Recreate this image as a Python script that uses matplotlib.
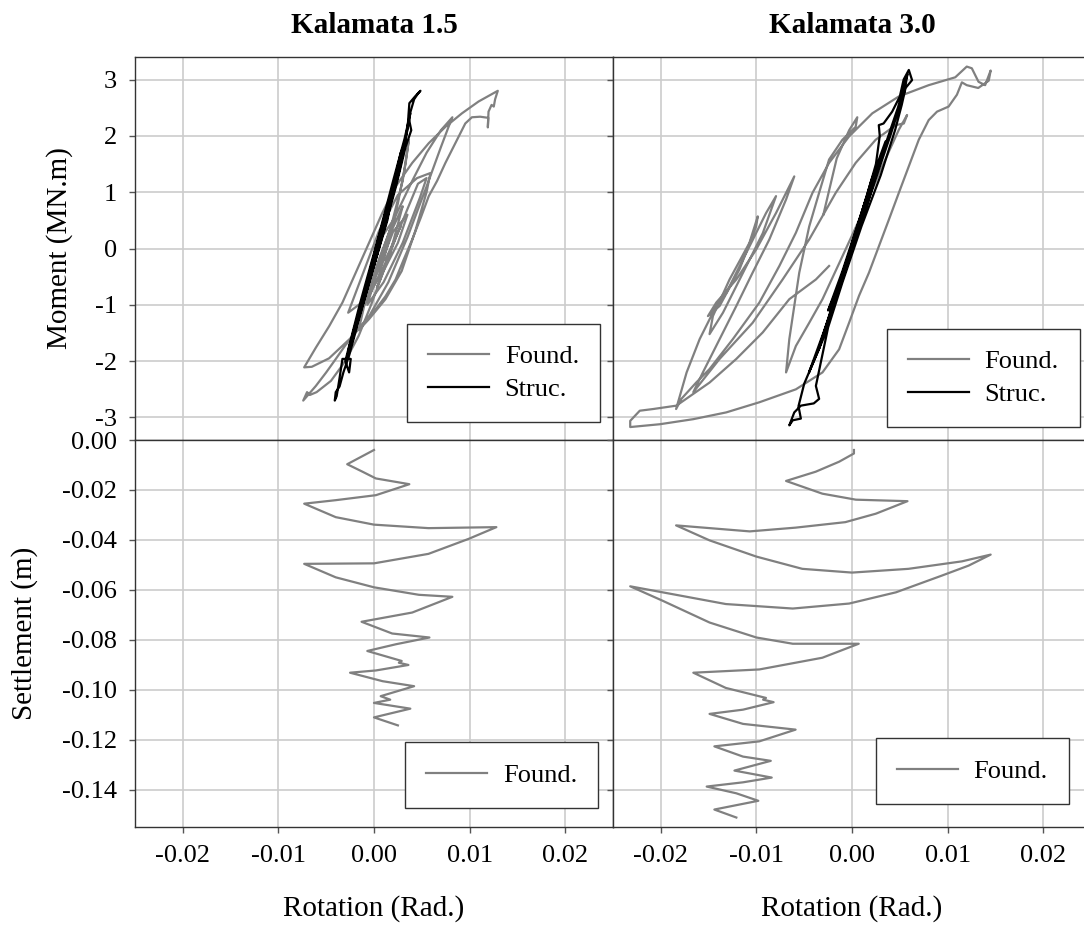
import numpy as np
import matplotlib
matplotlib.use("Agg")
import matplotlib.pyplot as plt
from matplotlib.ticker import FormatStrFormatter, MultipleLocator

# rotation in mrad (converted to rad when drawn), moment in MN.m, settlement in m
found_15 = np.array([
    (0.0, 0.0), (1.2, 0.3), (2.0, 0.5), (0.5, -0.3), (-0.5, -0.7), (1.0, 0.0), (2.6, 0.6),
    (3.0, 0.75), (1.5, -0.2), (-0.8, -0.9), (-2.7, -1.14), (-1.5, -0.6), (0.5, 0.3), (2.5, 0.95),
    (4.5, 1.25), (5.9, 1.34), (5.5, 1.0), (4.3, 0.3), (2.9, -0.4), (1.2, -0.9), (-0.5, -1.25),
    (-1.6, -1.45), (-1.0, -1.0), (0.2, -0.4), (1.8, 0.4), (3.0, 1.2), (3.65, 1.93), (3.3, 1.5),
    (2.5, 0.8), (1.5, 0.1), (0.5, -0.5), (-1.0, -1.0), (0.5, -0.2), (2.3, 0.6), (4.0, 1.2),
    (5.5, 1.7), (7.0, 2.1), (8.2, 2.33), (7.8, 2.16), (7.0, 1.8), (5.5, 1.1), (3.5, 0.2),
    (1.5, -0.6), (-0.5, -1.2), (-2.5, -1.6), (-4.7, -1.95), (-6.5, -2.1), (-7.3, -2.11),
    (-6.08, -1.76), (-4.69, -1.38), (-3.3, -0.96), (-1.91, -0.43), (-0.52, 0.1), (0.87, 0.63),
    (2.26, 1.1), (4.0, 1.52), (5.73, 1.87), (7.47, 2.16), (9.2, 2.4), (10.94, 2.61), (12.95, 2.8),
    (12.67, 2.65), (12.53, 2.52), (12.3, 2.55), (11.98, 2.43), (11.91, 2.15), (11.95, 2.32),
    (11.1, 2.34), (10.24, 2.33), (9.55, 2.22), (8.51, 1.87), (7.47, 1.52), (6.6, 1.2), (5.73, 0.93),
    (4.9, 0.55), (4.0, 0.16), (3.1, -0.2), (2.26, -0.55), (1.2, -0.85), (0.17, -1.08), (-0.9, -1.3),
    (-1.91, -1.49), (-3.0, -1.72), (-3.99, -1.96), (-5.0, -2.2), (-6.08, -2.44), (-7.4, -2.7),
    (-7.0, -2.55), (-6.7, -2.6), (-6.0, -2.55), (-4.5, -2.35), (-3.0, -2.0), (-1.6, -1.55),
    (-0.3, -1.0), (1.0, -0.4), (2.3, 0.2), (3.5, 0.7), (4.6, 1.15), (5.5, 1.25), (4.8, 0.9),
    (3.0, 0.1), (1.0, -0.6), (-0.7, -1.0), (0.2, -0.5), (2.0, 0.3), (3.5, 0.6), (2.5, 0.1),
    (1.0, -0.4), (0.3, -0.7), (1.3, -0.2), (2.8, 0.4), (2.0, 0.1), (1.2, -0.2),
])

struc_15 = np.array([
    (0.2, -0.1), (1.5, 0.75), (2.2, 1.2), (1.4, 0.5), (-0.5, -0.6), (-1.8, -1.35), (-1.0, -0.9),
    (0.8, 0.2), (2.6, 1.35), (3.0, 1.65), (2.4, 1.3), (0.5, 0.2), (-1.5, -1.1), (-2.6, -1.75),
    (-2.8, -1.95), (-2.2, -1.6), (-0.4, -0.5), (1.6, 0.8), (2.8, 1.7), (3.3, 1.9), (3.6, 2.3),
    (4.2, 2.65), (4.6, 2.75), (4.86, 2.8), (4.3, 2.7), (3.7, 2.58), (3.6, 2.35), (3.9, 2.1),
    (3.3, 1.8), (2.3, 1.1), (1.0, 0.3), (-0.5, -0.6), (-1.8, -1.4), (-2.6, -1.9), (-3.2, -2.2),
    (-3.6, -2.45), (-4.0, -2.55), (-4.1, -2.7), (-3.9, -2.62), (-3.6, -2.3), (-3.3, -1.96),
    (-2.43, -1.96), (-2.6, -2.2), (-3.0, -2.0), (-1.5, -1.0), (0.3, 0.1), (2.0, 1.2), (3.2, 1.95),
    (3.8, 2.4), (3.5, 2.1), (2.2, 1.2), (0.5, 0.0), (-1.2, -1.0), (-2.2, -1.5), (-1.2, -0.9),
    (0.5, 0.2), (1.8, 1.0), (1.0, 0.4), (0.0, -0.3), (0.8, 0.2),
])

found_30 = np.array([
    (-3.0, 0.6), (-1.6, 1.6), (-0.3, 2.1), (0.55, 2.33), (0.38, 2.16), (-1.01, 1.93), (-2.4, 1.58),
    (-3.44, 0.99), (-4.48, 0.39), (-5.52, -0.43), (-6.56, -1.61), (-6.9, -2.2), (-5.87, -1.73),
    (-4.48, -1.32), (-3.09, -0.9), (-1.01, -0.14), (1.08, 0.63), (3.16, 1.46), (4.9, 2.11),
    (5.76, 2.37), (5.42, 2.22), (4.55, 2.19), (2.47, 1.93), (0.38, 1.52), (-1.7, 0.99),
    (-4.48, 0.16), (-7.26, -0.55), (-10.4, -1.32), (-13.85, -1.96), (-16.6, -2.55), (-15.6, -2.2),
    (-13.85, -1.61), (-12.1, -1.02), (-10.4, -0.43), (-8.65, 0.16), (-6.9, 0.87), (-6.04, 1.28),
    (-7.95, 0.63), (-10.03, -0.02), (-12.1, -0.55), (-14.2, -0.96), (-15.07, -1.2), (-13.85, -1.02),
    (-11.77, -0.37), (-10.03, 0.39), (-9.86, 0.57), (-10.73, 0.1), (-12.81, -0.55), (-14.55, -1.2),
    (-14.9, -1.52), (-13.5, -1.14), (-11.4, -0.43), (-9.34, 0.27), (-7.95, 0.93), (-8.99, 0.63),
    (-11.07, -0.08), (-13.16, -0.79), (-14.2, -1.02), (-15.94, -1.61), (-17.3, -2.2), (-18.4, -2.85),
    (-17.85, -2.67), (-16.3, -2.38), (-14.9, -2.14), (-12.47, -1.61), (-9.69, -0.96), (-7.6, -0.31),
    (-5.87, 0.28), (-4.13, 0.99), (-2.4, 1.52), (-0.31, 1.99), (2.12, 2.4), (4.9, 2.7), (8.02, 2.9),
    (10.8, 3.04), (12.0, 3.23), (12.53, 3.2), (13.23, 2.96), (13.92, 2.9), (14.5, 3.16),
    (14.3, 2.98), (13.2, 2.85), (12.0, 2.9), (11.49, 2.95), (10.97, 2.73), (10.1, 2.52),
    (8.89, 2.43), (8.02, 2.28), (6.98, 1.93), (5.94, 1.46), (4.9, 0.99), (3.85, 0.51), (2.81, 0.04),
    (1.77, -0.43), (0.73, -0.84), (-0.31, -1.32), (-1.35, -1.79), (-3.09, -2.2), (-5.87, -2.5),
    (-9.69, -2.73), (-13.16, -2.91), (-16.6, -3.03), (-20.1, -3.12), (-23.2, -3.17), (-23.2, -3.06),
    (-22.2, -2.88), (-20.8, -2.85), (-18.37, -2.79), (-14.9, -2.38), (-12.1, -1.96), (-9.34, -1.49),
    (-6.56, -0.9), (-3.78, -0.55), (-2.4, -0.31),
])

struc_30 = np.array([
    (0.0, 0.1), (1.5, 0.9), (-1.0, -0.4), (-2.5, -1.1), (-1.0, -0.5), (2.0, 1.2), (3.5, 1.9),
    (2.0, 1.0), (-0.5, -0.3), (-3.0, -1.5), (-4.5, -2.2), (-3.0, -1.6), (0.0, 0.0), (2.5, 1.5),
    (2.9, 2.0), (2.8, 2.19), (3.3, 2.22), (4.2, 2.43), (5.0, 2.7), (5.4, 3.0), (5.94, 3.17),
    (6.28, 2.99), (5.6, 2.85), (5.2, 2.55), (4.5, 2.1), (3.0, 1.3), (1.0, 0.4), (-1.0, -0.6),
    (-2.5, -1.4), (-3.78, -2.44), (-3.44, -2.67), (-4.0, -2.75), (-5.35, -2.79), (-6.04, -2.91),
    (-6.56, -3.14), (-6.2, -3.05), (-5.35, -3.02), (-5.6, -2.8), (-5.0, -2.4), (-3.5, -1.8),
    (-1.5, -0.7), (1.0, 0.6), (3.0, 1.6), (4.8, 2.5), (5.8, 3.1), (5.5, 2.8), (4.0, 2.0),
    (2.0, 1.0), (0.0, 0.0), (-2.0, -1.0), (-3.5, -1.8), (-2.5, -1.3), (-0.5, -0.3), (1.0, 0.5),
    (0.3, 0.2),
])

settle_15 = np.array([
    (0.0, -0.004), (-2.8, -0.0097), (-1.2, -0.0127), (0.2, -0.0154), (3.7, -0.0177),
    (0.2, -0.0221), (-4.0, -0.0241), (-7.3, -0.0255), (-4.0, -0.0309), (0.0, -0.0339),
    (5.7, -0.0353), (12.8, -0.0349), (9.9, -0.0396), (5.7, -0.0456), (0.0, -0.0494),
    (-7.3, -0.0496), (-4.0, -0.055), (0.0, -0.059), (4.7, -0.062), (8.2, -0.0628), (4.0, -0.0691),
    (-1.3, -0.0728), (1.9, -0.0775), (5.8, -0.0791), (2.3, -0.0818), (-0.7, -0.0845),
    (2.9, -0.0885), (2.6, -0.0892), (3.6, -0.0901), (0.2, -0.0923), (-2.5, -0.0932),
    (0.9, -0.0966), (4.2, -0.0986), (0.7, -0.1026), (1.7, -0.104), (0.0, -0.1053), (3.8, -0.1076),
    (0.0, -0.1111), (2.5, -0.1143),
])

settle_30 = np.array([
    (0.2, -0.004), (0.2, -0.0054), (-1.35, -0.0087), (-3.8, -0.0127), (-6.9, -0.0164),
    (-3.1, -0.0215), (0.4, -0.0239), (5.8, -0.0245), (2.5, -0.0295), (-0.7, -0.0329),
    (-5.9, -0.0351), (-10.7, -0.0366), (-18.4, -0.0342), (-14.9, -0.0402), (-10.0, -0.0467),
    (-5.2, -0.0516), (0.0, -0.0531), (5.9, -0.0516), (11.5, -0.0486), (14.5, -0.0459),
    (12.2, -0.0503), (9.4, -0.0543), (4.6, -0.061), (-0.3, -0.0655), (-6.2, -0.0675),
    (-13.2, -0.0657), (-23.2, -0.0586), (-19.8, -0.0644), (-14.9, -0.0731), (-10.0, -0.0791),
    (-6.2, -0.0816), (0.7, -0.0816), (-3.1, -0.0872), (-9.7, -0.0919), (-16.6, -0.0932),
    (-13.2, -0.0993), (-9.0, -0.1033), (-9.3, -0.104), (-8.2, -0.105), (-11.4, -0.108),
    (-14.9, -0.1097), (-11.4, -0.1137), (-5.9, -0.116), (-9.7, -0.1207), (-14.4, -0.1227),
    (-11.4, -0.1268), (-8.5, -0.1285), (-12.3, -0.1324), (-8.4, -0.1352), (-11.4, -0.1371),
    (-15.2, -0.1388), (-12.1, -0.1415), (-9.8, -0.1445), (-14.4, -0.148), (-12.1, -0.1512),
])

titles = ["Kalamata 1.5", "Kalamata 3.0"]
GRAY = "#808080"


def style(ax):
    ax.grid(True, color="#cccccc", linewidth=1.2)
    ax.set_axisbelow(True)
    for sp in ax.spines.values():
        sp.set_color("#333333")
        sp.set_linewidth(1.0)
    ax.tick_params(direction="out", length=4, width=1, color="#555555", labelsize=19, pad=9)
    ax.set_xlim(-0.025, 0.025)
    ax.xaxis.set_major_locator(MultipleLocator(0.01))
    ax.xaxis.set_major_formatter(FormatStrFormatter("%.2f"))


def add_legend(ax, anchor, spacing=0.35):
    ax.legend(loc="lower right", bbox_to_anchor=anchor, borderaxespad=0, fontsize=19,
              fancybox=False, edgecolor="#333333", framealpha=1, handlelength=2.3,
              handletextpad=0.6, borderpad=0.8, labelspacing=spacing)


def main():
    plt.rcParams["font.family"] = ["Liberation Serif", "DejaVu Serif"]
    plt.rcParams["axes.unicode_minus"] = False

    fig = plt.figure(figsize=(10.84, 9.33), dpi=100)
    ax_tl = fig.add_axes([0.1245, 0.5284, 0.441, 0.4105])
    ax_tr = fig.add_axes([0.5655, 0.5284, 0.441, 0.4105])
    ax_bl = fig.add_axes([0.1245, 0.1136, 0.441, 0.4148])
    ax_br = fig.add_axes([0.5655, 0.1136, 0.441, 0.4148])

    found = [found_15, found_30]
    struc = [struc_15, struc_30]
    settle = [settle_15, settle_30]
    top_anchor = [(0.973, 0.047), (0.977, 0.034)]
    bot_anchor = [(0.969, 0.049), (0.954, 0.059)]

    for i, (ax_t, ax_b) in enumerate([(ax_tl, ax_bl), (ax_tr, ax_br)]):
        # moment - rotation
        ax_t.plot(found[i][:, 0] * 1e-3, found[i][:, 1], color=GRAY, lw=1.6, label="Found.")
        ax_t.plot(struc[i][:, 0] * 1e-3, struc[i][:, 1], color="black", lw=1.6, label="Struc.")
        style(ax_t)
        ax_t.set_ylim(-3.4, 3.4)
        ax_t.yaxis.set_major_locator(MultipleLocator(1))
        ax_t.tick_params(axis="x", length=0, labelbottom=False)
        ax_t.set_title(titles[i], fontsize=21, fontweight="bold", pad=17)
        add_legend(ax_t, top_anchor[i])

        # settlement - rotation
        ax_b.plot(settle[i][:, 0] * 1e-3, settle[i][:, 1], color=GRAY, lw=1.6, label="Found.")
        style(ax_b)
        ax_b.set_ylim(-0.155, 0.0)
        ax_b.yaxis.set_major_locator(MultipleLocator(0.02))
        ax_b.yaxis.set_major_formatter(FormatStrFormatter("%.2f"))
        ax_b.set_xlabel("Rotation (Rad.)", fontsize=21, labelpad=20)
        add_legend(ax_b, bot_anchor[i])

        if i == 1:
            ax_t.tick_params(axis="y", labelleft=False)
            ax_b.tick_params(axis="y", labelleft=False)

    ax_tl.set_ylabel("Moment (MN.m)", fontsize=21, labelpad=16)
    ax_bl.set_ylabel("Settlement (m)", fontsize=21, labelpad=17)

    fig.savefig("out.png", dpi=100)


if __name__ == "__main__":
    main()
